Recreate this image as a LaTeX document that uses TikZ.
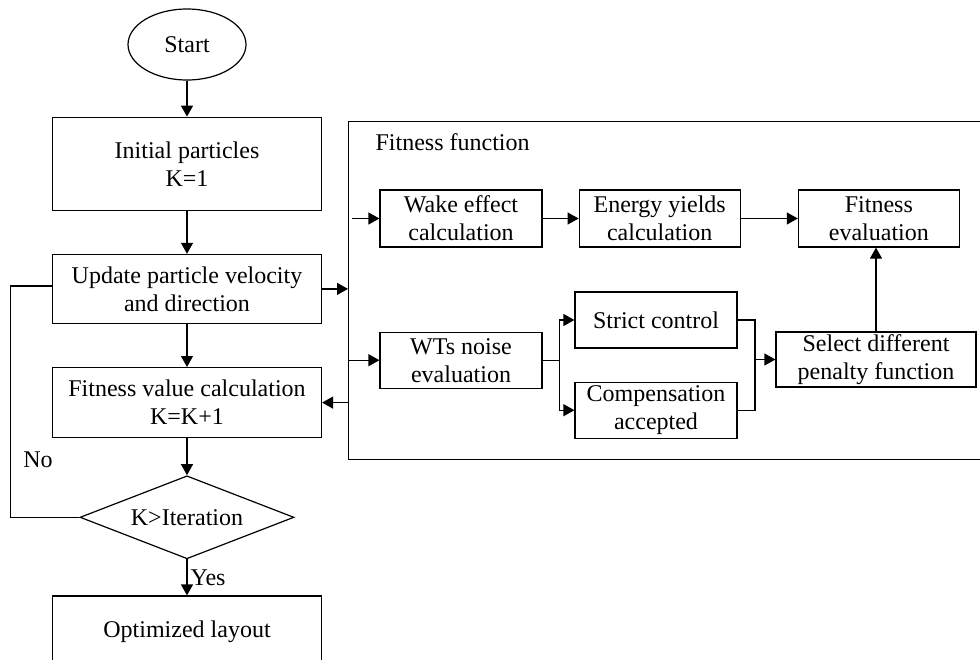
\documentclass[tikz,border=0pt]{standalone}
\usepackage{fontspec}
\setmainfont{Liberation Serif}
\usepackage{tikz}
\usetikzlibrary{arrows.meta, positioning, shapes.geometric}

\begin{document}
\begin{tikzpicture}[
  x=1pt, y=-1pt,
  font=\fontsize{24}{28}\selectfont,
  line width=1.2pt,
  stepbox/.style={rectangle, draw, align=center, minimum width=269pt},
  subbox/.style={rectangle, draw, align=center, minimum width=162pt, minimum height=56pt, inner sep=2pt},
  terminal/.style={ellipse, draw, minimum width=118pt, minimum height=71pt},
  decision/.style={diamond, draw, aspect=2.58, inner sep=0pt, minimum width=214pt, minimum height=83pt},
  flow/.style={-{Triangle[length=11pt, width=12pt]}},
]
\useasboundingbox (0,0) rectangle (980,659);

% Main loop
\node[terminal] (start) at (187,44.5) {Start};
\node[stepbox, minimum height=93pt, below=36pt of start] (init) {Initial particles\\K=1};
\node[stepbox, minimum height=69pt, below=43pt of init] (update) {Update particle velocity\\and direction};
\node[stepbox, minimum height=70pt, below=43pt of update] (fitval) {Fitness value calculation\\K=K+1};
\node[decision, below=37pt of fitval] (check) {K>Iteration};
\node[stepbox, minimum height=72pt, below=36pt of check] (opt) {Optimized layout};

% Fitness function frame
\node[draw, anchor=north west, minimum width=650pt, minimum height=338pt] (ff) at (348,121) {};
\node[anchor=west, inner sep=0pt] (fflabel) at (375,142) {Fitness function};

\node[subbox, minimum height=57pt] (wake) at (461,218.5) {Wake effect\\calculation};
\node[subbox, minimum height=57pt, minimum width=161pt, right=36pt of wake] (energy) {Energy yields\\calculation};
\node[subbox, minimum height=57pt, minimum width=161pt, right=57pt of energy] (fiteval) {Fitness\\evaluation};
\node[subbox, below=84pt of wake] (noise) {WTs noise\\evaluation};
\node[subbox] (strict) at (656,320) {Strict control};
\node[subbox, below=33pt of strict] (comp) {Compensation\\accepted};
\node[subbox, minimum width=200pt, minimum height=55pt] (select) at (876,359.5) {Select different\\penalty function};

% Main loop arrows
\draw[flow] (start) -- (init);
\draw[flow] (init) -- (update);
\draw[flow] (update) -- (fitval);
\draw[flow] (fitval) -- (check);
\draw[flow] (check) -- node[right, inner sep=3pt] {Yes} (opt);
\draw (check.west) -- ++(-69,0) |- ([yshift=3pt]update.west);
\node (no) at (38,460) {No};

% Into and out of fitness function
\draw[flow] (update.east) -- (ff.west |- update.east);
\draw[flow] ([xshift=4pt]ff.west |- wake) -- (wake);
\draw[flow] (ff.west |- noise) -- (noise);
\draw[flow] (ff.west |- fitval.east) -- (fitval.east);

% Inside fitness function
\draw[flow] (wake) -- (energy);
\draw[flow] (energy) -- (fiteval);
\draw[flow] (select) -- (select |- fiteval.south);
\draw (noise.east) -- ++(17,0) coordinate (nsplit);
\draw[flow] (nsplit) |- (strict.west);
\draw[flow] (nsplit) |- (comp.west);
\coordinate (cmerge) at (755,359.5);
\draw (strict.east) -| (cmerge) |- (comp.east);
\draw[flow] (cmerge) -- (select);

\end{tikzpicture}
\end{document}
